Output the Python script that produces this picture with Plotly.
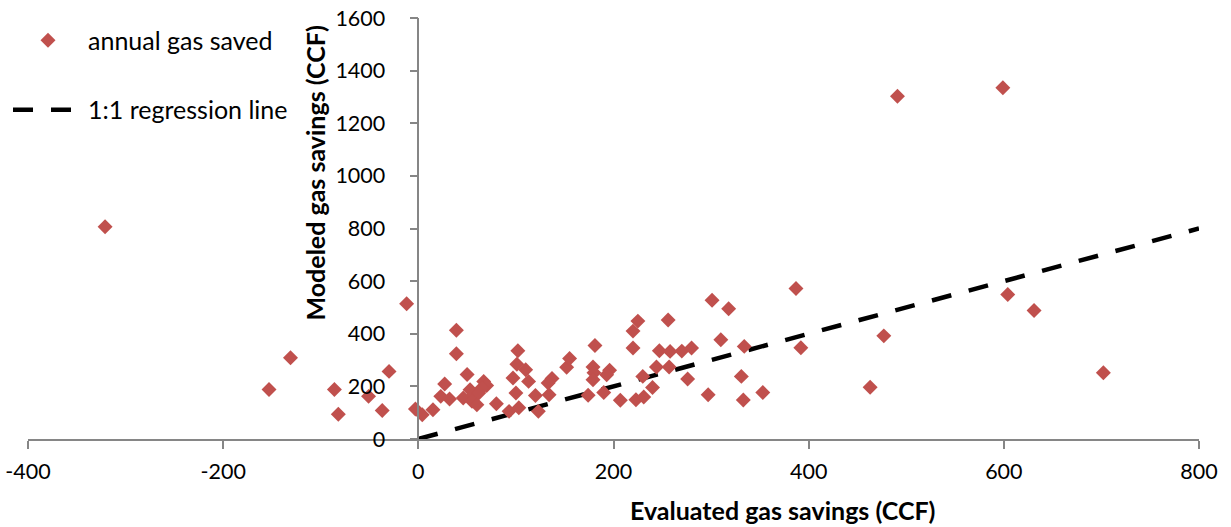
import plotly.graph_objects as go

# Evaluated vs. modeled annual gas savings (CCF) per home
evaluated = [
    -321, -153, -131, -86, -82, -51, -37, -30, -12, -3,
    4, 15, 27, 23, 32, 39, 39, 50, 46, 53,
    56, 55, 60, 67, 70, 65, 62, 80, 93, 102,
    101, 97, 100, 103, 110, 113, 120, 123, 134, 137,
    133, 152, 155, 174, 181, 179, 180, 179, 190, 196,
    193, 207, 225, 220, 220, 230, 223, 231, 240, 244,
    247, 256, 258, 257, 270, 280, 276, 297, 301, 318,
    310, 334, 331, 333, 353, 387, 392, 477, 463, 491,
    599, 604, 631, 702,
]
modeled = [
    807, 188, 309, 188, 94, 162, 108, 257, 514, 114,
    92, 111, 209, 162, 152, 413, 324, 245, 156, 187,
    165, 143, 130, 219, 203, 194, 175, 134, 105, 335,
    284, 232, 175, 119, 263, 219, 165, 105, 168, 230,
    213, 273, 306, 166, 355, 274, 252, 225, 177, 261,
    244, 147, 448, 410, 346, 238, 149, 160, 196, 274,
    335, 452, 333, 274, 334, 346, 228, 168, 527, 495,
    377, 352, 238, 148, 177, 572, 347, 392, 197, 1303,
    1335, 549, 488, 252,
]

# 1:1 reference line endpoints
line_x = [0, 800]
line_y = [0, 800]

x_ticks = [-400, -200, 0, 200, 400, 600, 800]
x_tick_text = ["-400", "-200", "0", "200", "400", "600", "800"]
y_ticks = [0, 200, 400, 600, 800, 1000, 1200, 1400, 1600]
y_tick_text = ["0", "200", "400", "600", "800", "1000", "1200", "1400", "1600"]

FONT = "Lato"
AXIS_GREY = "#868686"
TICK_SIZE = 21.5
LEGEND_SIZE = 25
TITLE_SIZE = 25

fig = go.Figure()

fig.add_trace(go.Scatter(
    x=line_x, y=line_y, mode="lines", name="1:1 regression line",
    line=dict(color="black", width=4.5, dash="20px,18px"),
    legendrank=2, legendgroup="b",
))

fig.add_trace(go.Scatter(
    x=evaluated, y=modeled, mode="markers", name="annual gas saved",
    marker=dict(symbol="diamond", size=11.5, color="#C0504D"),
    legendrank=1, legendgroup="a",
))

fig.update_layout(
    width=1231, height=527,
    margin=dict(l=28, r=32, t=18, b=88, autoexpand=False),
    paper_bgcolor="white", plot_bgcolor="white",
    font=dict(family=FONT, size=TICK_SIZE, color="black"),
    showlegend=True,
    legend=dict(
        xref="container", yref="container",
        x=0.0065, y=0.9668, xanchor="left", yanchor="top",
        bgcolor="rgba(0,0,0,0)", font=dict(size=LEGEND_SIZE),
        itemwidth=70, tracegroupgap=34, traceorder="grouped",
    ),
    xaxis=dict(
        range=[-400, 800], tickvals=x_ticks, ticktext=x_tick_text,
        showgrid=False, zeroline=False, showline=True, automargin=False,
        linecolor=AXIS_GREY, linewidth=1.5,
        ticks="outside", ticklen=8, tickcolor=AXIS_GREY, tickwidth=1.5,
        ticklabelstandoff=4, tickfont=dict(size=TICK_SIZE),
    ),
    yaxis=dict(
        range=[0, 1600], tickvals=y_ticks, ticktext=y_tick_text,
        anchor="free", position=1 / 3, automargin=False,
        showgrid=False, zeroline=False, showline=True,
        linecolor=AXIS_GREY, linewidth=1.5,
        ticks="outside", ticklen=8, tickcolor=AXIS_GREY, tickwidth=1.5,
        ticklabelstandoff=20, tickfont=dict(size=TICK_SIZE),
    ),
    annotations=[
        dict(text="<b>Evaluated gas savings (CCF)</b>", xref="paper", yref="paper",
             x=0.6439, y=-0.168, showarrow=False, font=dict(size=TITLE_SIZE),
             xanchor="center", yanchor="middle"),
        dict(text="<b>Modeled gas savings (CCF)</b>", xref="paper", yref="paper",
             x=0.2452, y=0.631, showarrow=False, font=dict(size=TITLE_SIZE),
             textangle=-90, xanchor="center", yanchor="middle"),
    ],
)

fig.write_html("out.html")
